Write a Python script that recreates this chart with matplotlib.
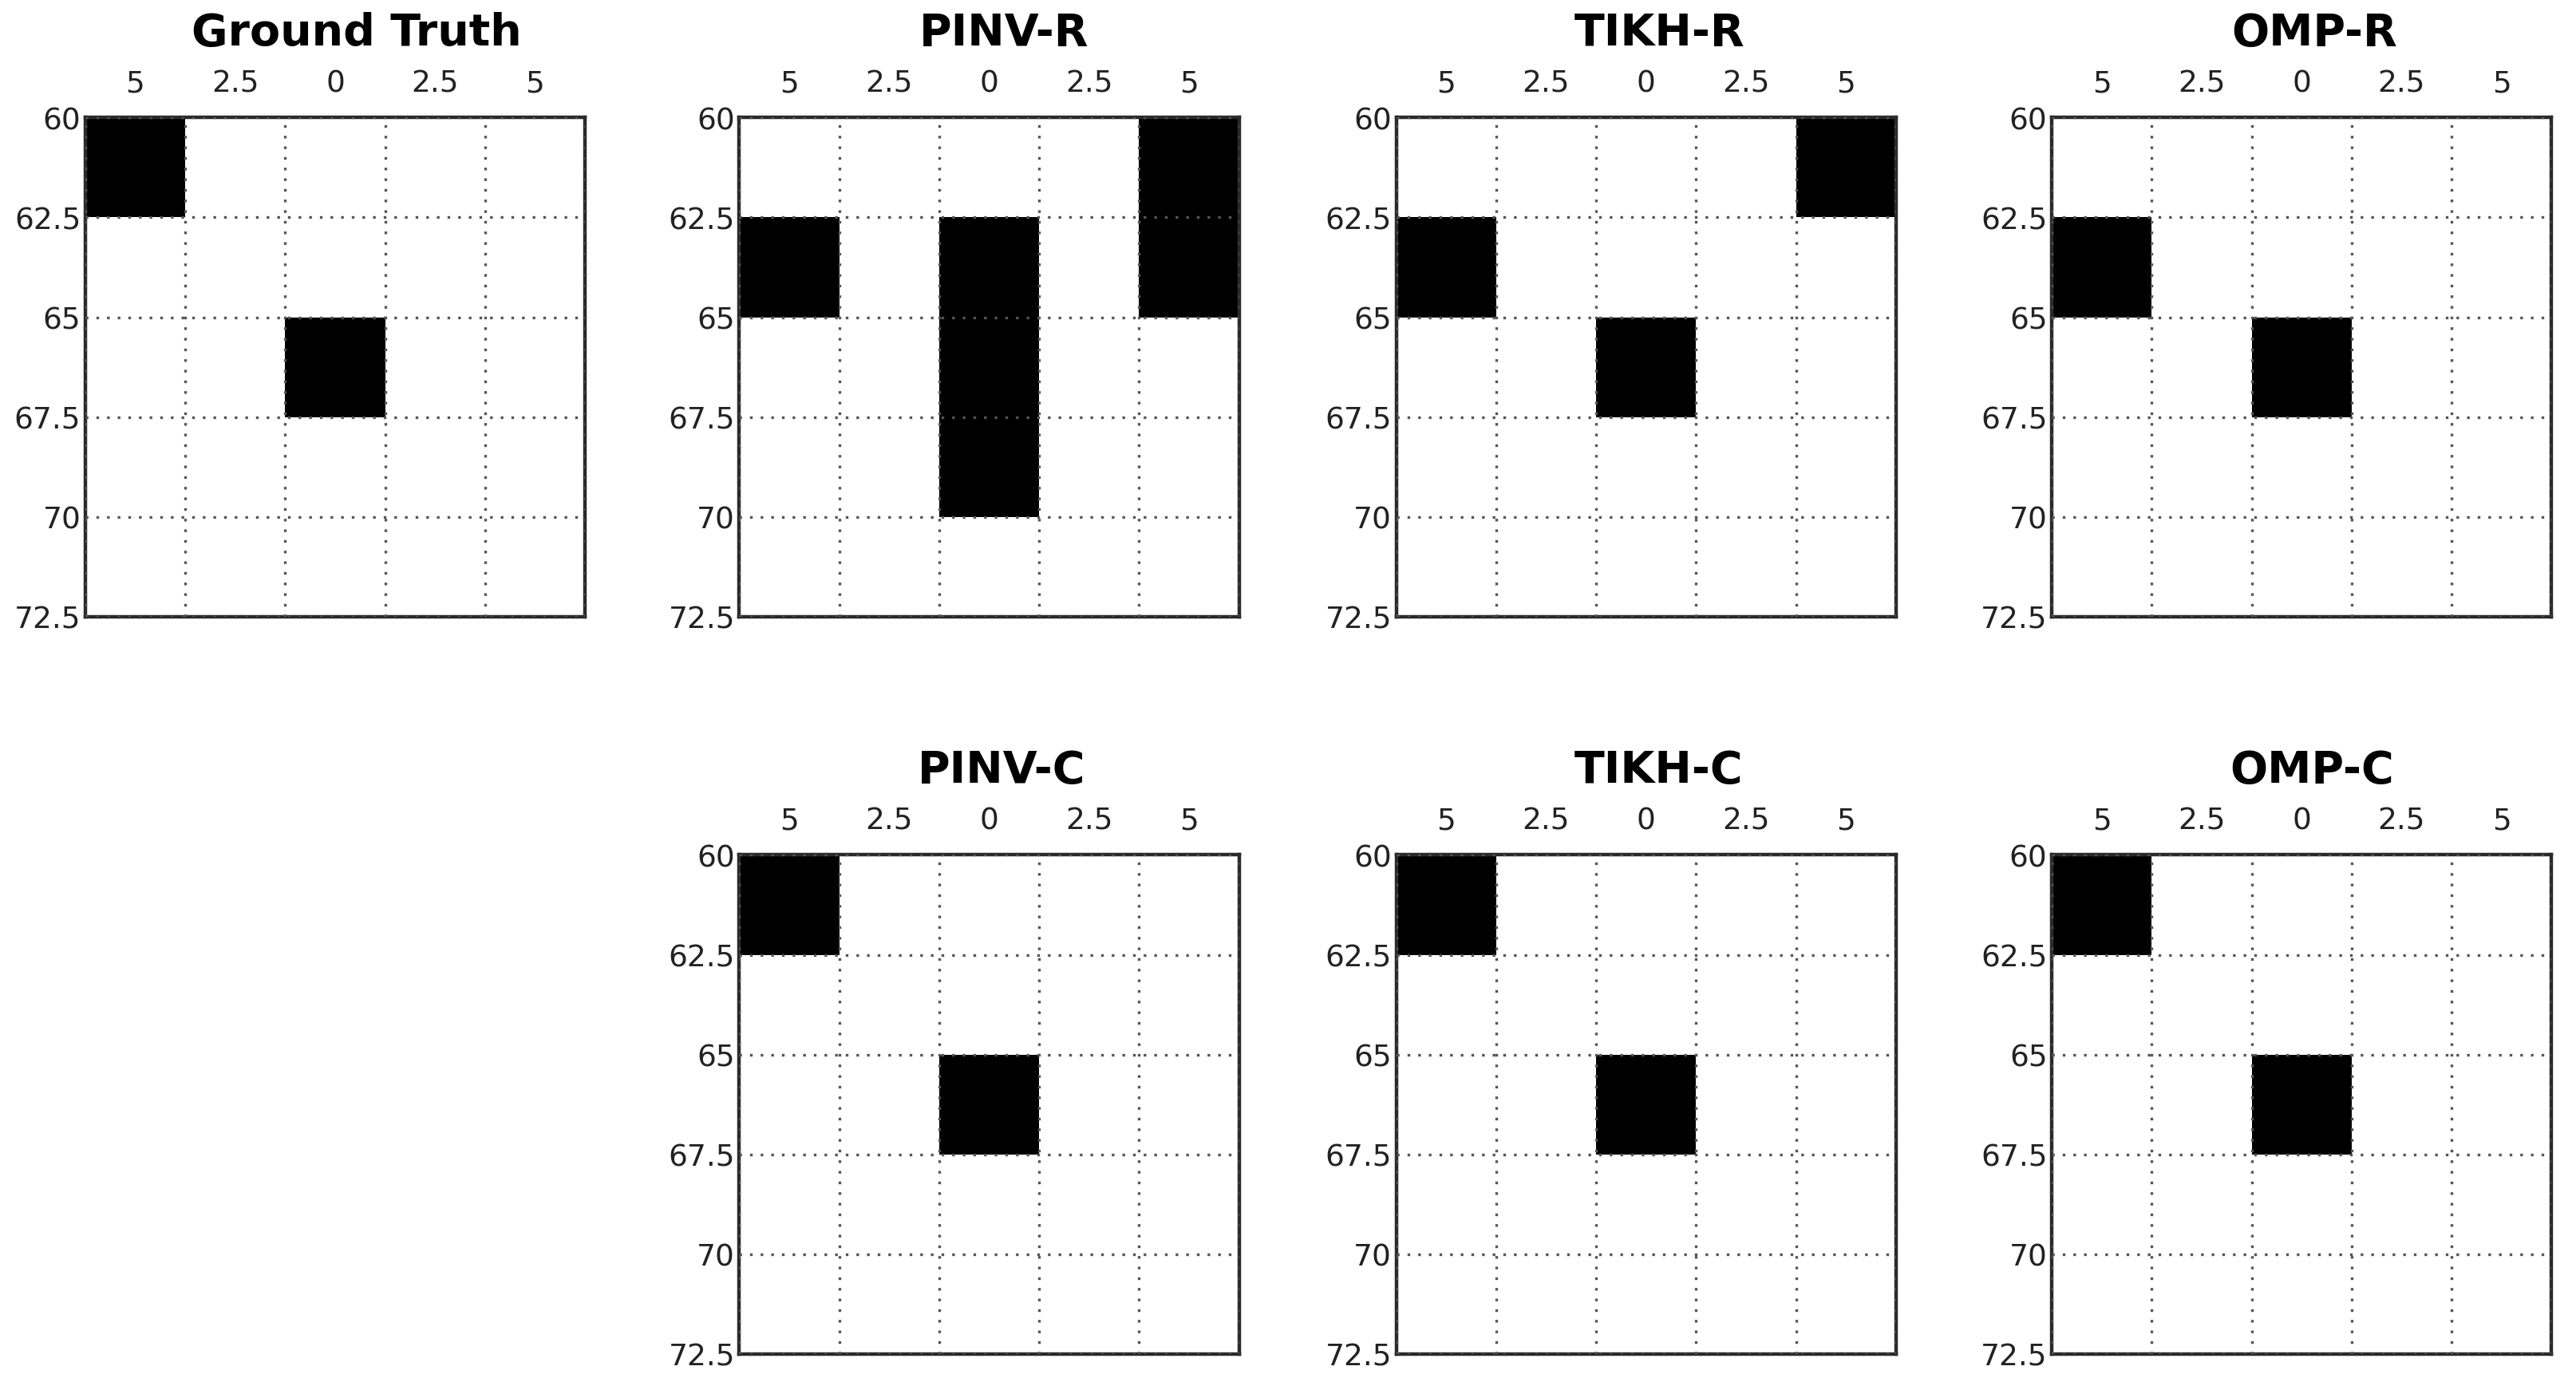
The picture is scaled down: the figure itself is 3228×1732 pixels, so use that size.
import numpy as np
import matplotlib
matplotlib.use("Agg")
import matplotlib.pyplot as plt

# panel titles and 5x5 binary maps (rows: 60..72.5, cols: 5 2.5 0 2.5 5)
titles = ["Ground Truth", "PINV-R", "TIKH-R", "OMP-R", "PINV-C", "TIKH-C", "OMP-C"]

ground_truth = [[1, 0, 0, 0, 0],
                [0, 0, 0, 0, 0],
                [0, 0, 1, 0, 0],
                [0, 0, 0, 0, 0],
                [0, 0, 0, 0, 0]]
pinv_r = [[0, 0, 0, 0, 1],
          [1, 0, 1, 0, 1],
          [0, 0, 1, 0, 0],
          [0, 0, 1, 0, 0],
          [0, 0, 0, 0, 0]]
tikh_r = [[0, 0, 0, 0, 1],
          [1, 0, 0, 0, 0],
          [0, 0, 1, 0, 0],
          [0, 0, 0, 0, 0],
          [0, 0, 0, 0, 0]]
omp_r = [[0, 0, 0, 0, 0],
         [1, 0, 0, 0, 0],
         [0, 0, 1, 0, 0],
         [0, 0, 0, 0, 0],
         [0, 0, 0, 0, 0]]
pinv_c = [[1, 0, 0, 0, 0],
          [0, 0, 0, 0, 0],
          [0, 0, 1, 0, 0],
          [0, 0, 0, 0, 0],
          [0, 0, 0, 0, 0]]
tikh_c = [[1, 0, 0, 0, 0],
          [0, 0, 0, 0, 0],
          [0, 0, 1, 0, 0],
          [0, 0, 0, 0, 0],
          [0, 0, 0, 0, 0]]
omp_c = [[1, 0, 0, 0, 0],
         [0, 0, 0, 0, 0],
         [0, 0, 1, 0, 0],
         [0, 0, 0, 0, 0],
         [0, 0, 0, 0, 0]]

x_labels = ["5", "2.5", "0", "2.5", "5"]
y_edges = [60, 62.5, 65, 67.5, 70, 72.5]
y_labels = ["60", "62.5", "65", "67.5", "70", "72.5"]

maps = [ground_truth, pinv_r, tikh_r, omp_r, pinv_c, tikh_c, omp_c]

plt.rcParams["font.family"] = ["DejaVu Sans"]

fig = plt.figure(figsize=(32.28, 17.33), dpi=100)

col_left = [0.0331, 0.2870, 0.5420, 0.7965]
row_bottom = [0.5534, 0.0202]
w, h = 0.194, 0.361
slots = [(0, 0), (0, 1), (0, 2), (0, 3), (1, 1), (1, 2), (1, 3)]
# titles sit a little right of the axes centre in the original
title_x = [0.543, 0.53, 0.527, 0.525, 0.525, 0.525, 0.52]

grid_style = dict(color="#555555", linestyle=(0, (1, 3)), linewidth=2.4)

x_edges = np.arange(6)
for (r, c), title, m, tx in zip(slots, titles, maps, title_x):
    ax = fig.add_axes([col_left[c], row_bottom[r], w, h])
    ax.pcolormesh(x_edges, y_edges, np.array(m), cmap="gray_r", vmin=0, vmax=1)
    ax.set_xlim(0, 5)
    ax.set_ylim(72.5, 60)

    ax.xaxis.tick_top()
    ax.set_xticks(x_edges[:-1] + 0.5)
    ax.set_xticklabels(x_labels)
    ax.set_xticks(x_edges, minor=True)
    ax.set_yticks(y_edges)
    ax.set_yticklabels(y_labels)

    ax.tick_params(axis="x", which="major", length=0, pad=18, labelsize=27, colors="#222222")
    ax.tick_params(axis="x", which="minor", length=0)
    ax.tick_params(axis="y", length=0, pad=4, labelsize=27, colors="#222222")

    ax.grid(False)
    ax.grid(True, axis="x", which="minor", **grid_style)
    ax.grid(True, axis="y", which="major", **grid_style)
    ax.set_axisbelow(False)

    for s in ax.spines.values():
        s.set_color("#2a2a2a")
        s.set_linewidth(3.2)

    ax.set_title(title, fontsize=40, fontweight="bold", pad=22, x=tx)

fig.savefig("out.png", dpi=100, facecolor="white")
